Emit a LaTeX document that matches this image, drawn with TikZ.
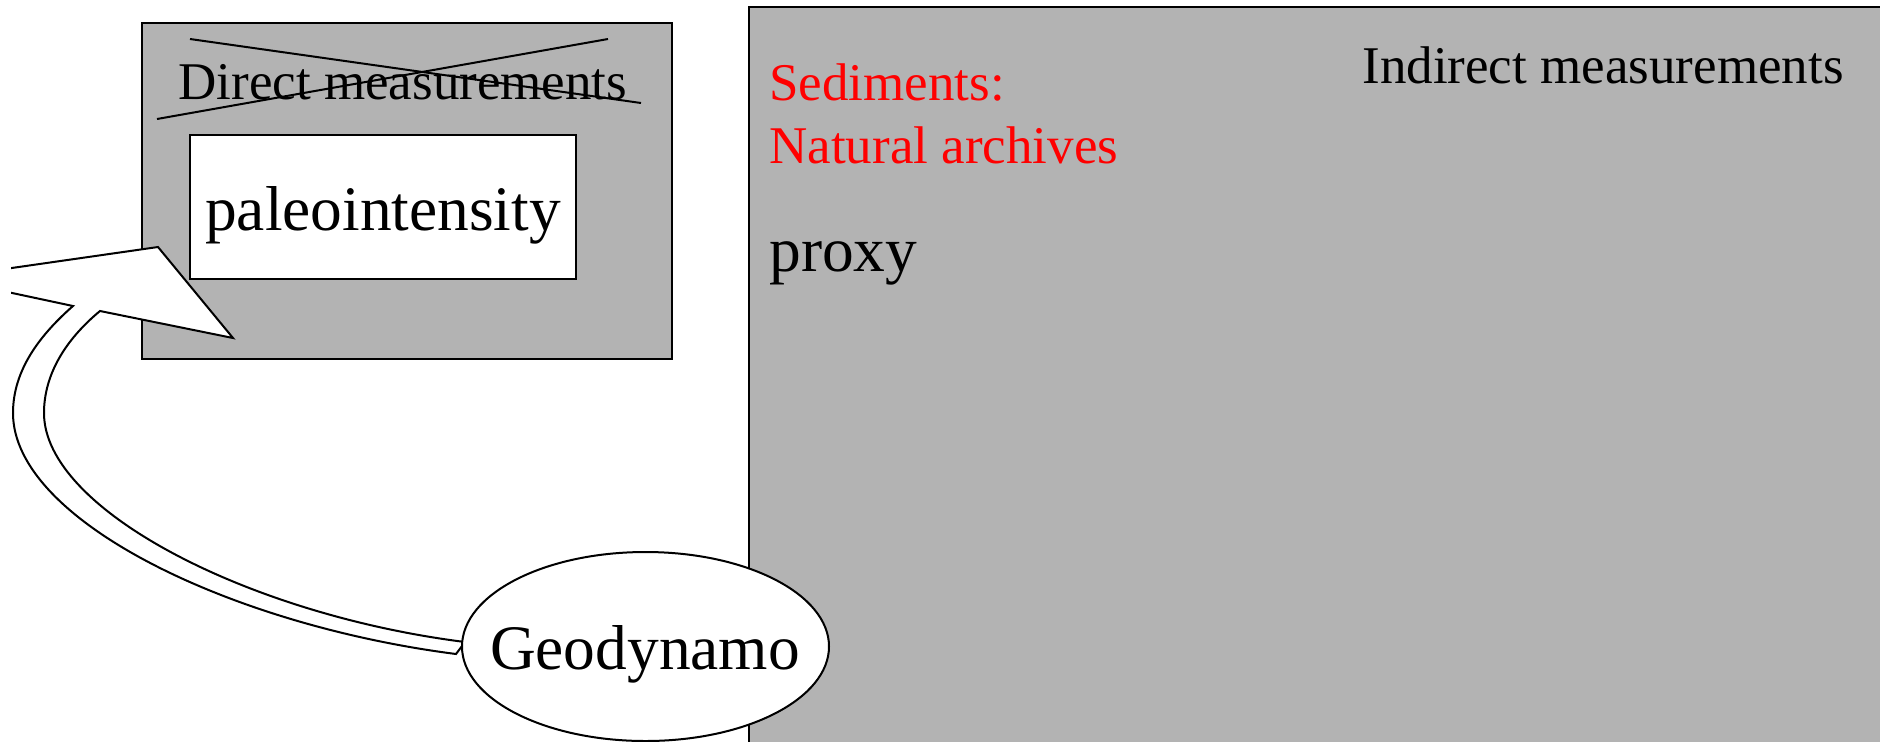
\documentclass[tikz,border=0pt]{standalone}
\usepackage{fontspec}
\setmainfont{Liberation Serif}
\usetikzlibrary{shapes.geometric}
\definecolor{boxgray}{RGB}{179,179,179}
\definecolor{redtext}{RGB}{255,0,0}
\begin{document}
\begin{tikzpicture}[x=0.5pt,y=-0.5pt,
  outline/.style={draw=black,line width=1pt},
  graybox/.style={outline,fill=boxgray},
  smalltext/.style={font=\fontsize{26.5}{30}\selectfont,inner sep=0pt,anchor=base west},
  bigtext/.style={font=\fontsize{31.7}{36}\selectfont,inner sep=0pt,anchor=base},
  ]
\useasboundingbox (0,0) rectangle (1880,741);
\begin{scope}
\clip (0,0) rectangle (1880,741);
% big indirect box
\draw[graybox] (749,7) rectangle (1900,760);
\node[smalltext,text=redtext] (sed) at (769,100) {Sediments:};
\node[smalltext,text=redtext] (nat) at (769,163) {Natural archives};
\node[bigtext,anchor=base west] (proxy) at (769,271) {proxy};
\node[smalltext] (indirect) at (1362,83) {Indirect measurements};
% left direct box
\draw[graybox] (142,23) rectangle (672,359);
\draw[outline,fill=white] (190,135) rectangle (576,279);
\node[smalltext] (direct) at (178,99) {Direct measurements};
\node[bigtext] (paleo) at (383,230) {paleointensity};
\draw[outline] (190,39) -- (641,103);
\draw[outline] (157,119) -- (608,39);
% curved block arrow
\begin{scope}
\clip (11,0) rectangle (1880,741);
\draw[outline,fill=white,line join=miter]
  (465,642) .. controls (250,615) and (44,510) .. (44,413)
  .. controls (44,375) and (65,340) .. (100,311)
  -- (233,338) -- (158,247) -- (-58,278) -- (73,306)
  .. controls (40,335) and (13,370) .. (13,413)
  .. controls (13,520) and (230,625) .. (456,654) -- cycle;
\end{scope}
% geodynamo ellipse
\node[ellipse,outline,fill=white,minimum width=183.5pt,minimum height=94.5pt,inner sep=0pt] (geo) at (645.5,646.5) {};
\node[bigtext] (geotext) at (645,669) {Geodynamo};
\end{scope}
\end{tikzpicture}
\end{document}
